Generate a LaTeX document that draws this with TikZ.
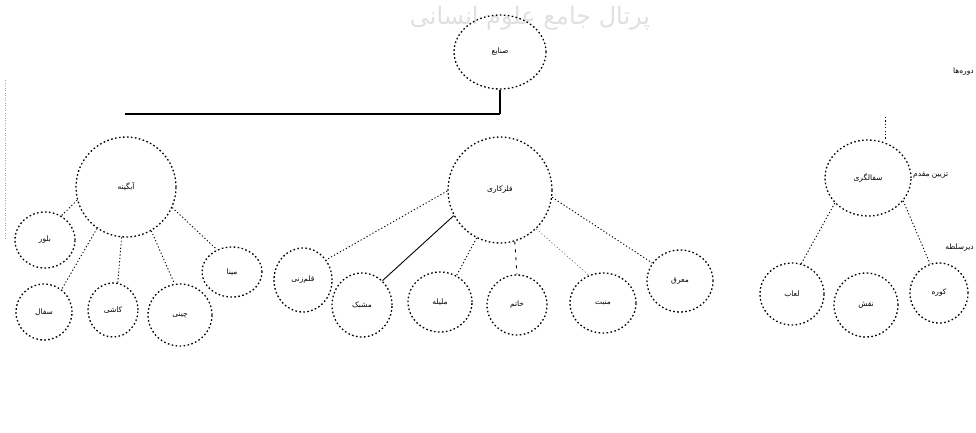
\documentclass[tikz,border=0pt]{standalone}
\usepackage{fontspec}
\newfontfamily\fa[Script=Arabic]{DejaVu Sans}
\TeXXeTstate=1
\usetikzlibrary{shapes.geometric}
\newcommand\rl[1]{\beginR #1\endR}
\tikzset{
  bub/.style={ellipse, draw, inner sep=0pt, line width=1.3pt,
    dash pattern=on 1.6pt off 2.4pt, font=\fa\fontsize{7.5}{8}\selectfont},
  link/.style={line width=0.9pt, dash pattern=on 1.2pt off 2.2pt},
  solidlink/.style={line width=0.9pt},
  side/.style={font=\fa\fontsize{7.5}{8}\selectfont, inner sep=1pt},
}
\begin{document}
\begin{tikzpicture}[x=1pt,y=-1pt]
\useasboundingbox (0,0) rectangle (976,432);
% watermark
\node[font=\fa\fontsize{24}{26}\selectfont, text=black!12] (wm) at (530,18) {\rl{پرتال جامع علوم انسانی}};
% faint left margin line
\draw[black!35, line width=0.5pt, dash pattern=on 1pt off 1.5pt] (5,80) coordinate (m1) -- (5,240) coordinate (m2);

% root
\node[bub, minimum width=92pt, minimum height=74pt] (root) at (500,52) {\rl{صنایع}};
\coordinate (j) at (500,114);
\coordinate (hl) at (125,114);
\draw[line width=1.2pt] (root.south) -- (j);
\draw[line width=1.5pt] (j) -- (hl);

% left group
\node[bub, minimum width=100pt, minimum height=100pt] (L) at (126,187) {\rl{آبگینه}};
\node[bub, minimum width=60pt, minimum height=56pt] (l1) at (45,240) {\rl{بلور}};
\node[bub, minimum width=60pt, minimum height=50pt] (l2) at (232,272) {\rl{مینا}};
\node[bub, minimum width=56pt, minimum height=56pt] (l3) at (44,312) {\rl{سفال}};
\node[bub, minimum width=50pt, minimum height=54pt] (l4) at (113,310) {\rl{کاشی}};
\node[bub, minimum width=64pt, minimum height=62pt] (l5) at (180,315) {\rl{چینی}};
\draw[link] (L.195) -- (l1.56);
\draw[link] (L.235) -- (l3.52);
\draw[link] (L.265) -- (l4.80);
\draw[link] (L.300) -- (l5.100);
\draw[link] (L.336) -- (l2.124);

% middle group
\node[bub, minimum width=104pt, minimum height=106pt] (M) at (500,190) {\rl{فلزکاری}};
\node[bub, minimum width=58pt, minimum height=64pt] (c1) at (303,280) {\rl{قلم‌زنی}};
\node[bub, minimum width=60pt, minimum height=64pt] (c2) at (362,305) {\rl{مشبک}};
\node[bub, minimum width=64pt, minimum height=60pt] (c3) at (440,302) {\rl{ملیله}};
\node[bub, minimum width=60pt, minimum height=60pt] (c4) at (517,305) {\rl{خاتم}};
\node[bub, minimum width=66pt, minimum height=60pt] (c5) at (603,303) {\rl{منبت}};
\node[bub, minimum width=66pt, minimum height=62pt] (c6) at (680,281) {\rl{معرق}};
\draw[link] (M.181) -- (c1.41);
\draw[solidlink] (M.209) -- (c2.50);
\draw[link] (M.244) -- (c3.58);
\draw[link, dash pattern=on 3pt off 5pt] (M.286) -- (c4.90);
\draw[link, black!60, line width=0.6pt] (M.313) -- (c5.117);
\draw[link] (M.352) -- (c6.147);

% right group
\coordinate (rt) at (885,117);
\node[bub, minimum width=86pt, minimum height=76pt] (R) at (868,178) {\rl{سفالگری}};
\node[bub, minimum width=64pt, minimum height=62pt] (r1) at (792,294) {\rl{لعاب}};
\node[bub, minimum width=64pt, minimum height=64pt] (r2) at (866,305) {\rl{نقش}};
\node[bub, minimum width=58pt, minimum height=60pt] (r3) at (939,293) {\rl{کوره}};
\draw[link, line width=0.6pt] (rt) -- (rt |- R.north);
\draw[link] (R.217) -- (r1.73);
\draw[link] (R.327) -- (r3.107);
\node[side, anchor=east] (t1) at (975,72) {\rl{دوره‌ها}};
\node[side, anchor=west] (t2) at (912,175) {\rl{تزیین مقدم}};
\node[side, anchor=east] (t3) at (975,248) {\rl{دیرسلطه}};
\end{tikzpicture}
\end{document}
